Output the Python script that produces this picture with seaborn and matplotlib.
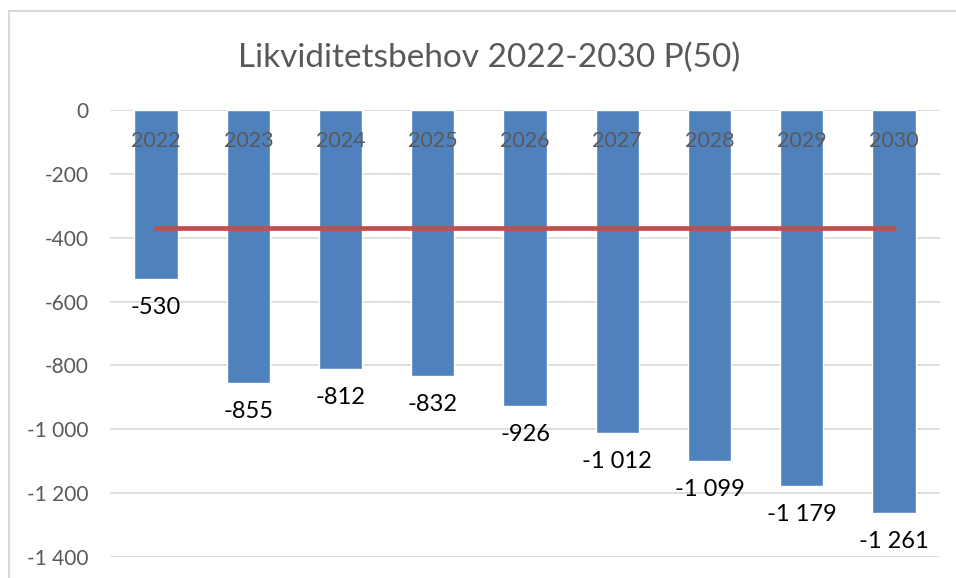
import matplotlib
matplotlib.use("Agg")
import matplotlib.pyplot as plt
import seaborn as sns
import numpy as np
import pandas as pd
from matplotlib.patches import Rectangle
from matplotlib.ticker import FuncFormatter

years = ["2022", "2023", "2024", "2025", "2026", "2027", "2028", "2029", "2030"]
values = [-530, -855, -812, -832, -926, -1012, -1099, -1179, -1261]
target = [-370, -370, -370, -370, -370, -370, -370, -370, -370]
yticks = [0, -200, -400, -600, -800, -1000, -1200, -1400]
title = "Likviditetsbehov 2022-2030 P(50)"

sns.set_theme(style="white")
plt.rcParams["font.family"] = ["Lato", "DejaVu Sans"]

W, H = 956, 578
fig = plt.figure(figsize=(W / 100, H / 100), dpi=100)
fig.patch.set_facecolor("white")
ax = fig.add_axes([110 / W, 1 - 557 / H, (940 - 110) / W, (557 - 110) / H])

df = pd.DataFrame({"year": years, "value": values})
sns.barplot(data=df, x="year", y="value", color="#4F81BD", saturation=1,
            width=0.47, ax=ax, zorder=2)

sns.lineplot(x=np.arange(len(years)), y=target, color="#C0504D", lw=3.4,
             ax=ax, zorder=3, solid_capstyle="round")

ax.set_ylim(-1400, 0)
ax.set_xlim(-0.5, len(years) - 0.5)
ax.set_yticks(yticks)
ax.yaxis.set_major_formatter(FuncFormatter(
    lambda v, p: f"{int(v):,}".replace(",", " ")))
ax.tick_params(axis="y", labelsize=15, labelcolor="#595959", length=0, pad=15.5)
ax.set_xticks([])
ax.set_xlabel("")
ax.set_ylabel("")
ax.grid(axis="y", color="#d9d9d9", lw=1.2, zorder=0)
ax.set_axisbelow(True)
for s in ax.spines.values():
    s.set_visible(False)

# category labels just below zero line
for i, y in enumerate(years):
    ax.annotate(y, (i, 0), xytext=(0, -22.5), textcoords="offset points",
                ha="center", va="center", fontsize=15.5, color="#595959", zorder=5)

# data labels under bar ends
for i, v in enumerate(values):
    ax.annotate(f"{v:,}".replace(",", " "), (i, v), xytext=(0, -20.5),
                textcoords="offset points", ha="center", va="center",
                fontsize=17, color="black", zorder=5)

fig.text(489 / W, 1 - 58 / H, title, ha="center", va="center",
         fontsize=24, color="#595959")

fig.patches.append(Rectangle((9 / W, -0.1), 1.1, 1 - 11 / H + 0.1,
                             transform=fig.transFigure, fill=False,
                             edgecolor="#d9d9d9", lw=1.5, clip_on=False))

fig.savefig("out.png", dpi=100)
